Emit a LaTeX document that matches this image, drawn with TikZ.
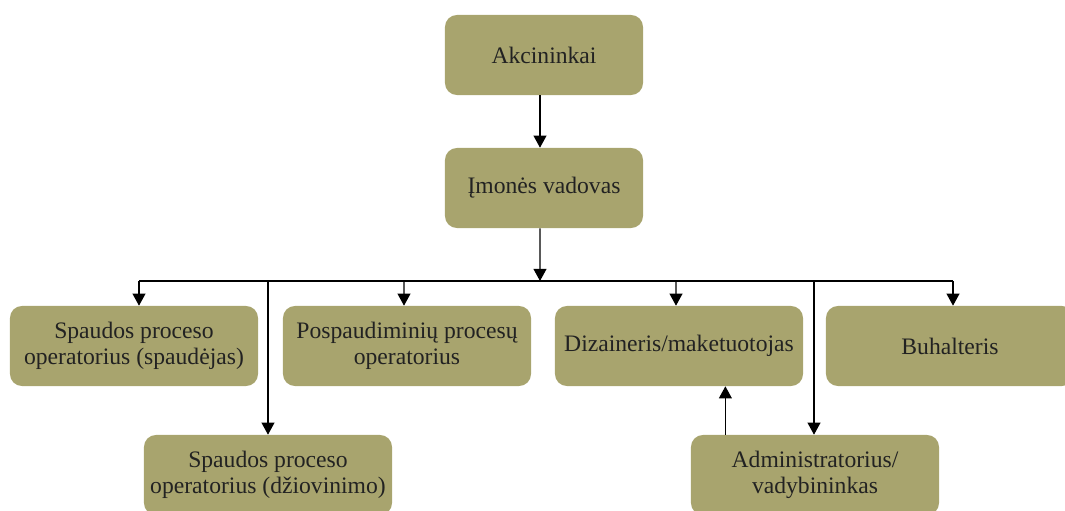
\documentclass[tikz,border=0pt]{standalone}
\usepackage{fontspec}
\setmainfont{Liberation Serif}
\usepackage{tikz}
\usetikzlibrary{arrows.meta}
\definecolor{boxolive}{HTML}{A8A46E}
\definecolor{textdark}{HTML}{222222}

\begin{document}
\begin{tikzpicture}[
        x=0.025cm, y=-0.025cm,
        box/.style={rectangle, fill=boxolive, rounded corners=0.3cm,
                    minimum width=6.2cm, minimum height=2cm, align=center,
                    inner sep=2pt, text=textdark,
                    font=\fontsize{16.8}{18.8}\selectfont},
        topbox/.style={box, minimum width=4.95cm},
        arrow/.style={-{Triangle[length=0.3cm, width=0.32cm]}, line width=0.9pt},
        line/.style={line width=0.9pt}
    ]
    \useasboundingbox (0,0) rectangle (1065,511);

    %% top
    \node[topbox] (akc) at (544,55) {Akcininkai};
    \node[topbox] (vad) at (544,188) {Įmonės vadovas};
    \draw[arrow] ([xshift=-0.1cm]akc.south) -- ([xshift=-0.1cm]vad.north);

    %% bus
    \coordinate (bus) at (540,281);
    \coordinate (busL) at (139,281);
    \coordinate (busR) at (953,281);
    \draw[arrow] ([xshift=-0.1cm]vad.south) -- (bus);
    \draw[line] (busL) -- (busR);

    %% first row
    \node[box] (spaud) at (134,346) {Spaudos proceso\\operatorius (spaudėjas)};
    \node[box] (posp) at (407,346) {Pospaudiminių procesų\\operatorius};
    \node[box] (diz) at (679,346) {Dizaineris/maketuotojas};
    \node[box] (buh) at (950,346) {Buhalteris};
    \draw[arrow] (busL) -- (busL |- spaud.north);
    \draw[arrow] (404,281) -- ([xshift=-0.075cm]posp.north);
    \draw[arrow] (676,281) -- ([xshift=-0.075cm]diz.north);
    \draw[arrow] (busR) -- (busR |- buh.north);

    %% second row
    \node[box] (dziov) at (268,475) {Spaudos proceso\\operatorius (džiovinimo)};
    \node[box] (adm) at (815,475) {Administratorius/\\vadybininkas};
    \draw[arrow] (268,281) -- (dziov.north);
    \draw[arrow] (814,281) -- ([xshift=-0.025cm]adm.north);
    \draw[arrow] ([xshift=-2.24cm]adm.north) -- ([xshift=-2.24cm]adm.north |- diz.south);

\end{tikzpicture}
\end{document}
